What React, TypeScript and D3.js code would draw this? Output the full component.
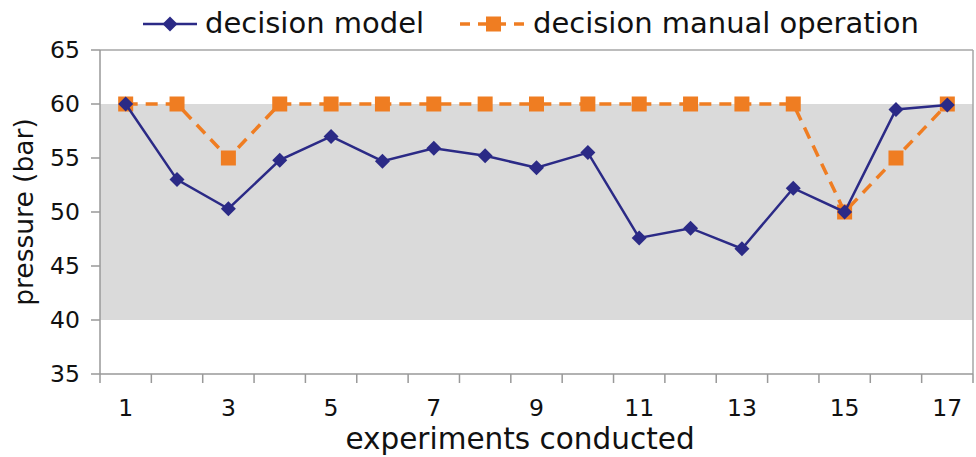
import React from "react";
import * as d3 from "d3";

const categories = ["1","2","3","4","5","6","7","8","9","10","11","12","13","14","15","16","17"];
const modelValues = [60, 53.0, 50.3, 54.8, 57.0, 54.7, 55.9, 55.2, 54.1, 55.5, 47.6, 48.5, 46.6, 52.2, 50.0, 59.5, 59.9];
const manualValues = [60, 60, 55, 60, 60, 60, 60, 60, 60, 60, 60, 60, 60, 60, 50, 55, 60];
const yTicks = [35, 40, 45, 50, 55, 60, 65];
const xTickLabels = ["1","3","5","7","9","11","13","15","17"];
const bandRange = [40, 60];
const seriesNames = ["decision model", "decision manual operation"];

const W = 976, H = 457;
const M = { left: 100, right: 973, top: 50, bottom: 374 };
const NAVY = "#2b2a86";
const ORANGE = "#ef7d22";
const FONT = "DejaVu Sans, sans-serif";

export default function App() {
  const x = d3.scaleBand<string>().domain(categories).range([M.left, M.right]).padding(0);
  const y = d3.scaleLinear().domain([35, 65]).range([M.bottom, M.top]);
  const cx = (c: string) => (x(c) as number) + x.bandwidth() / 2;
  const line = d3.line<number>().x((_, i) => cx(categories[i])).y((v) => y(v));
  const diamond = (px: number, py: number, r: number) =>
    `M${px},${py - r}L${px + r},${py}L${px},${py + r}L${px - r},${py}Z`;
  const bounds = [...categories.map((c) => x(c) as number), M.right];

  return (
    <svg width={W} height={H} style={{ position: "absolute", left: 0, top: 0 }} fontFamily={FONT}>
      <rect x={0} y={0} width={W} height={H} fill="#fff" />
      <rect x={M.left} y={y(bandRange[1])} width={M.right - M.left} height={y(bandRange[0]) - y(bandRange[1])} fill="#dadada" />
      {/* frame */}
      <line x1={M.left} x2={M.right} y1={M.top} y2={M.top} stroke="#a6a6a6" strokeWidth={1.5} />
      <line x1={M.right} x2={M.right} y1={M.top} y2={M.bottom} stroke="#a6a6a6" strokeWidth={1.5} />
      <line x1={M.left} x2={M.left} y1={M.top} y2={M.bottom} stroke="#999" strokeWidth={1.5} />
      <line x1={M.left} x2={M.right} y1={M.bottom} y2={M.bottom} stroke="#999" strokeWidth={1.5} />
      {yTicks.map((t) => (
        <g key={t}>
          <line x1={M.left - 9} x2={M.left} y1={y(t)} y2={y(t)} stroke="#999" strokeWidth={1.5} />
          <text x={80} y={y(t)} dy="0.36em" textAnchor="end" fontSize={23.5} fill="#111">{t}</text>
        </g>
      ))}
      {bounds.map((b, i) => (
        <line key={i} x1={b} x2={b} y1={M.bottom} y2={M.bottom + 9} stroke="#999" strokeWidth={1.5} />
      ))}
      {xTickLabels.map((t) => (
        <text key={t} x={cx(t)} y={416} textAnchor="middle" fontSize={23.5} fill="#111">{t}</text>
      ))}
      <text x={520} y={449} textAnchor="middle" fontSize={29.5} fill="#111">experiments conducted</text>
      <text transform={`translate(33,${212}) rotate(-90)`} textAnchor="middle" fontSize={26.5} fill="#111">pressure (bar)</text>

      {/* manual series */}
      <path d={line(manualValues) || ""} fill="none" stroke={ORANGE} strokeWidth={3.5} strokeDasharray="12,8" />
      {manualValues.map((v, i) => (
        <rect key={i} x={cx(categories[i]) - 7.5} y={y(v) - 7.5} width={15} height={15} fill={ORANGE} />
      ))}
      {/* model series */}
      <path d={line(modelValues) || ""} fill="none" stroke={NAVY} strokeWidth={2.5} />
      {modelValues.map((v, i) => (
        <path key={i} d={diamond(cx(categories[i]), y(v), 7.5)} fill={NAVY} />
      ))}

      {/* legend */}
      <line x1={143} x2={197} y1={24} y2={24} stroke={NAVY} strokeWidth={2.5} />
      <path d={diamond(170, 24, 7.5)} fill={NAVY} />
      <text x={205} y={33} fontSize={29} fill="#111">{seriesNames[0]}</text>
      <line x1={460} x2={527} y1={24} y2={24} stroke={ORANGE} strokeWidth={3.5} strokeDasharray="10,8" />
      <rect x={486} y={16.5} width={15} height={15} fill={ORANGE} />
      <text x={533} y={33} fontSize={29} fill="#111">{seriesNames[1]}</text>
    </svg>
  );
}
